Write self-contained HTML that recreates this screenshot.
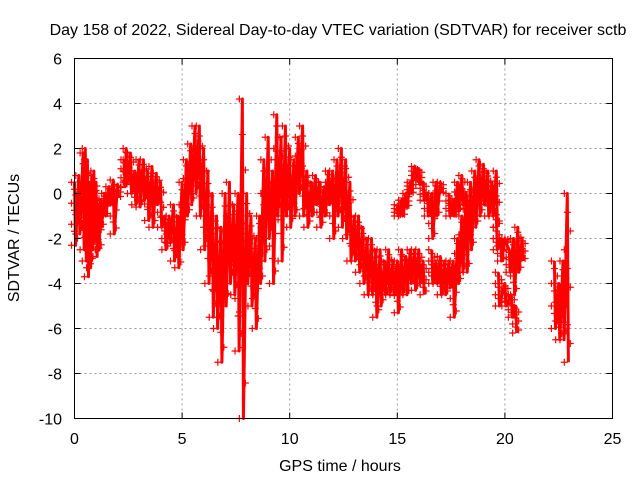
<!DOCTYPE html>
<html><head><meta charset="utf-8"><style>
body{margin:0;background:#fff}
svg{display:block;font-family:"Liberation Sans",sans-serif}
</style></head><body>
<svg id="chart" width="640" height="480" viewBox="0 0 640 480">
<text x="338" y="35" text-anchor="middle" font-size="16">Day 158 of 2022, Sidereal Day-to-day VTEC variation (SDTVAR) for receiver sctb</text>
<g id="grid"></g>
<g id="marks"></g>
<rect x="74.5" y="58.5" width="538" height="360" fill="none" stroke="#000" stroke-width="1"/>
<g id="ticks"></g>
<text x="340" y="471" text-anchor="middle" font-size="16">GPS time / hours</text>
<text transform="translate(19,238) rotate(-90)" text-anchor="middle" font-size="16">SDTVAR / TECUs</text>
</svg>
<script>
const xTicks=[0,5,10,15,20,25];
const yTicks=[6,4,2,0,-2,-4,-6,-8,-10];
// segments: [time, high, low]
const segA=[[0,0.5,-2.3],[0.2,0.8,-1.8],[0.4,1.8,-2.5],[0.5,2.0,-3.0],[0.6,1.5,-3.7],[0.7,0.5,-3.3],[0.8,0.8,-2.5],[0.9,1.0,-2.0],[1.0,0.5,-2.8],[1.1,-0.5,-2.5],[1.2,-0.3,-1.5],[1.4,0,-1],[1.6,0.3,-0.5],[1.8,0.6,-1.8],[2.0,0.4,-0.2]];
const segB=[[2.3,1.5,0.3],[2.4,2.0,0.5],[2.6,1.8,0],[2.8,1.0,-0.5],[3.0,1.5,-0.6],[3.2,1.5,-0.3],[3.4,1.0,-1.2],[3.6,1.2,-1.5],[3.8,0.9,-0.5],[4.0,0.5,-1.5],[4.2,-1.0,-2.5],[4.4,-1.0,-2.2],[4.6,-0.5,-3.0],[4.8,-1.0,-3.3],[5.0,0.5,-2.5],[5.2,1.5,-1.0],[5.4,2.2,-0.5],[5.6,3.0,0],[5.8,3.0,-1],[6.0,2.0,-2.5],[6.2,1.0,-4],[6.4,0,-5.5],[6.6,-1.0,-6],[6.8,-1.5,-7.5],[7.0,0,-5],[7.2,0.5,-4],[7.4,-0.5,-4.5],[7.6,0,-7],[7.8,4.2,-10],[8.0,0,-4],[8.2,-1,-5],[8.4,-2,-6],[8.6,-1,-4],[8.8,1.5,-3],[9.0,2.5,-2],[9.2,1.0,-4],[9.4,3.5,-1],[9.6,2.5,-3],[9.8,3.0,-1],[10.0,2.0,-1.5],[10.2,1.5,-1],[10.4,2.5,0],[10.6,3.0,-1.0],[10.8,1.0,-1.5],[11.0,0.5,-1],[11.2,0.8,-0.5],[11.4,0.5,-1.5],[11.6,0.3,-1.0],[11.8,1.0,-0.5],[12.0,1.0,-2],[12.2,1.5,-1],[12.4,2.0,-1.5],[12.6,1.5,-2.0],[12.8,0.5,-3],[13.0,-1.0,-3],[13.2,-1.0,-3.5],[13.4,-1.5,-4],[13.6,-2,-4.5],[13.8,-2.0,-4.5],[14.0,-2.5,-5.5],[14.2,-2.5,-5],[14.4,-3.0,-4.5],[14.6,-2.5,-4.5],[14.8,-3.0,-4.5],[15.0,-3.0,-5.3],[15.2,-2.5,-4.5],[15.4,-2.8,-4.5],[15.6,-2.5,-4],[15.8,-2.5,-4.3],[16.0,-2.5,-4.0],[16.2,-3.0,-4.5]];
const segC=[[15.0,-0.5,-1],[15.2,-0.3,-1.0],[15.4,0,-0.6],[15.6,0.5,0],[15.8,1.2,0.6],[16.0,1.1,0.4],[16.2,0.5,-0.3],[16.4,0,-1],[16.6,0,-2],[16.8,0.5,-1],[17.0,0.5,0]];
const segD=[[16.6,-2.5,-4],[16.8,-3,-4],[17.0,-2.8,-4.5],[17.2,-3,-4.5],[17.4,-3,-4.2],[17.6,-3,-5.5],[17.8,-2,-4],[18.0,-1,-3.5],[18.2,0,-3.5],[18.4,0.5,-2.5],[18.6,1.0,-1.5],[18.8,1.5,-1.0],[19.0,1.3,-0.5],[19.2,1.0,-1],[19.4,0.5,-1],[19.6,1,-1.5]];
const segE=[[17.4,0,-1],[17.6,-0.3,-1.0],[17.8,0.5,-0.8],[18.0,0.8,-0.5],[18.2,0,-0.7]];
const segF=[[19.6,-1.0,-2.5],[19.8,-2,-3],[20.0,-2,-2.2],[20.2,-2.5,-3.5],[20.4,-2,-4.5],[20.6,-1.5,-3.5],[20.8,-2.0,-3.0]];
const segG=[[19.7,-3.5,-5],[20.0,-4,-5],[20.3,-4.5,-5.5],[20.5,-5,-6.2]];
const segH=[[22.3,-3,-6],[22.5,-4,-6.5],[22.7,-3,-6.5],[22.9,0,-7.5]];
const segments=[segA,segB,segC,segD,segE,segF,segG,segH];

const NS='http://www.w3.org/2000/svg';
const X=t=>74.5+t*538/25;
const Y=v=>58.5+(6-v)*360/16;
function mk(tag,attrs,parent){const e=document.createElementNS(NS,tag);for(const k in attrs)e.setAttribute(k,attrs[k]);parent.appendChild(e);return e;}
const grid=document.getElementById('grid'),ticks=document.getElementById('ticks'),marks=document.getElementById('marks');
xTicks.forEach(t=>{
  if(t>0&&t<25){const g=mk('line',{x1:X(t),x2:X(t),y1:58.5,y2:418.5,stroke:'#999','stroke-dasharray':'2,3'},grid);
  
  }
  const tk=mk('path',{d:`M${X(t)},418.5v-6M${X(t)},58.5v6`,stroke:'#000'},ticks);
  
  
  const l=mk('text',{x:X(t),y:444,'text-anchor':'middle','font-size':16},ticks);l.textContent=t;
  
  
});
yTicks.forEach(v=>{
  if(v<6&&v>-10){const g=mk('line',{x1:74.5,x2:612.5,y1:Y(v),y2:Y(v),stroke:'#999','stroke-dasharray':'2,3'},grid);
  
  }
  const tk=mk('path',{d:`M74.5,${Y(v)}h6M612.5,${Y(v)}h-6`,stroke:'#000'},ticks);
  
  
  const l=mk('text',{x:62,y:Y(v)+6,'text-anchor':'end','font-size':16},ticks);l.textContent=v;
  
  
});
function plus(x,y){const p=mk('path',{d:`M${x-3.5},${y}h7M${x},${y-3.5}v7`,stroke:'#f00','stroke-width':1.2},marks);
  
  }
segments.forEach(seg=>{
  let d='';
  seg.forEach((r,i)=>{d+=(i?'L':'M')+X(r[0])+','+Y(r[1])+'L'+X(r[0]+0.05)+','+Y(r[2]);});
  const pl=mk('path',{d:d,fill:'none',stroke:'#f00','stroke-width':3,'stroke-linejoin':'round'},marks);
  
  
  seg.forEach(r=>{
    const n=9;
    for(let k=0;k<=n;k++){const v=r[1]+(r[2]-r[1])*k/n;plus(X(r[0])+[-3,0,3][k%3],Y(v));}
  });
});
</script>
</body></html>
